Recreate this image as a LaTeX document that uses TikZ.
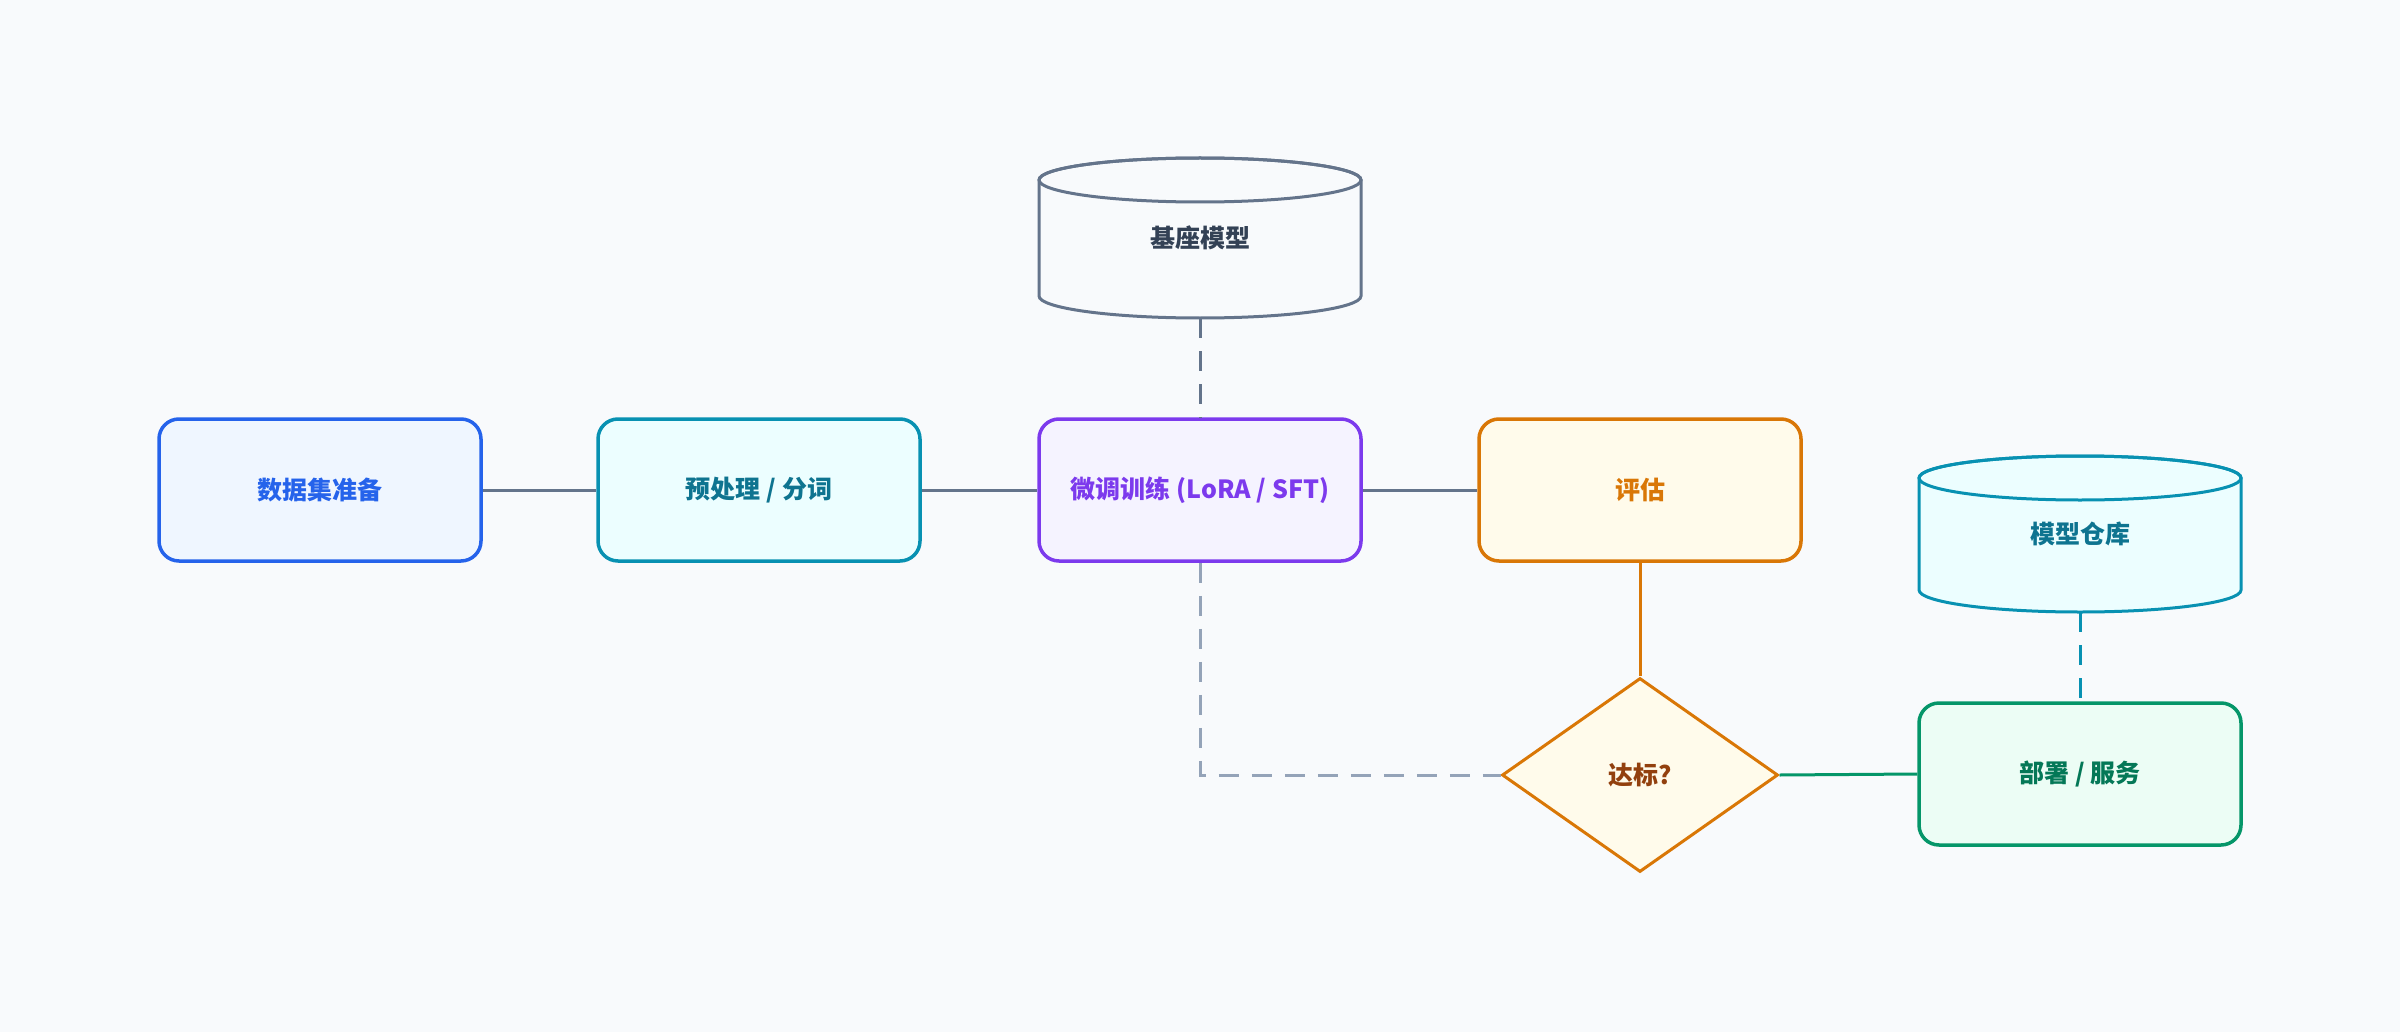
\documentclass[tikz,border=0pt]{standalone}
\usepackage{fontspec}
\setmainfont{Noto Sans CJK SC}
\usetikzlibrary{shapes.geometric}

\definecolor{bg}{HTML}{F8FAFC}
\definecolor{slate}{HTML}{64748B}
\definecolor{slatetext}{HTML}{334155}
\definecolor{slatelight}{HTML}{94A3B8}
\definecolor{blueline}{HTML}{2563EB}
\definecolor{bluefill}{HTML}{EFF6FF}
\definecolor{cyanline}{HTML}{0891B2}
\definecolor{cyanfill}{HTML}{ECFEFF}
\definecolor{cyantext}{HTML}{0E7490}
\definecolor{purpleline}{HTML}{7C3AED}
\definecolor{purplefill}{HTML}{F5F3FF}
\definecolor{amberline}{HTML}{D97706}
\definecolor{amberfill}{HTML}{FFFBEB}
\definecolor{ambertext}{HTML}{92400E}
\definecolor{greenline}{HTML}{059669}
\definecolor{greenfill}{HTML}{ECFDF5}
\definecolor{greentext}{HTML}{047857}

\begin{document}
\begin{tikzpicture}[x=1pt, y=-1pt,
    label/.style={font=\fontsize{25}{30}\selectfont\bfseries},
    stage/.style={label, draw, rounded corners=20pt, line width=3.5pt,
      minimum width=322pt, minimum height=142pt, inner sep=0pt},
    store/.style={label, minimum width=322pt, inner sep=0pt},
    decision/.style={label, diamond, draw=amberline, fill=amberfill, text=ambertext,
      line width=3pt, minimum width=276pt, minimum height=194pt, inner sep=0pt},
    link/.style={line width=3pt},
    dashlink/.style={line width=3pt, dash pattern=on 20pt off 13pt}]
  \useasboundingbox (0,0) rectangle (2400,1032);
  \fill[bg] (0,0) rectangle (2400,1032);

  \coordinate (basec) at (1200,238);
  \coordinate (repoc) at (2080,534);
  \filldraw[slate, fill=bg, line width=3pt]
    ([shift={(-161pt,58pt)}]basec) -- ([shift={(-161pt,-58pt)}]basec)
    arc[start angle=180, end angle=360, x radius=161pt, y radius=22pt]
    -- ([shift={(161pt,58pt)}]basec)
    arc[start angle=0, end angle=180, x radius=161pt, y radius=22pt] -- cycle;
  \draw[slate, line width=3pt] ([yshift=58pt]basec) ellipse[x radius=161pt, y radius=22pt];
  \filldraw[cyanline, fill=cyanfill, line width=3pt]
    ([shift={(-161pt,56pt)}]repoc) -- ([shift={(-161pt,-56pt)}]repoc)
    arc[start angle=180, end angle=360, x radius=161pt, y radius=22pt]
    -- ([shift={(161pt,56pt)}]repoc)
    arc[start angle=0, end angle=180, x radius=161pt, y radius=22pt] -- cycle;
  \draw[cyanline, line width=3pt] ([yshift=56pt]repoc) ellipse[x radius=161pt, y radius=22pt];

  \node[store, minimum height=160pt, text=slatetext] (base) at (basec) {基座模型};
  \node[store, minimum height=156pt, text=cyantext] (repo) at (repoc) {模型仓库};

  \node[stage, draw=blueline, fill=bluefill, text=blueline] (data) at (320,490) {数据集准备};
  \node[stage, draw=cyanline, fill=cyanfill, text=cyantext] (prep) at (759,490) {预处理 / 分词};
  \node[stage, draw=purpleline, fill=purplefill, text=purpleline] (tune) at (1200,490) {微调训练 (LoRA / SFT)};
  \node[stage, draw=amberline, fill=amberfill, text=amberline] (eval) at (1640,490) {评估};
  \node[decision] (check) at (1640,775) {达标?};
  \node[stage, draw=greenline, fill=greenfill, text=greentext] (deploy) at (2080,774) {部署 / 服务};

  \draw[link, slate] (data) -- (prep);
  \draw[link, slate] (prep) -- (tune);
  \draw[link, slate] (tune) -- (eval);
  \draw[dashlink, slate] (base) -- (tune);
  \draw[link, amberline] (eval) -- (check);
  \draw[dashlink, slatelight] (tune.south) |- (check.west);
  \draw[link, greenline] (check.east) -- (deploy.west);
  \draw[dashlink, cyanline] (repo) -- (deploy);
\end{tikzpicture}
\end{document}
